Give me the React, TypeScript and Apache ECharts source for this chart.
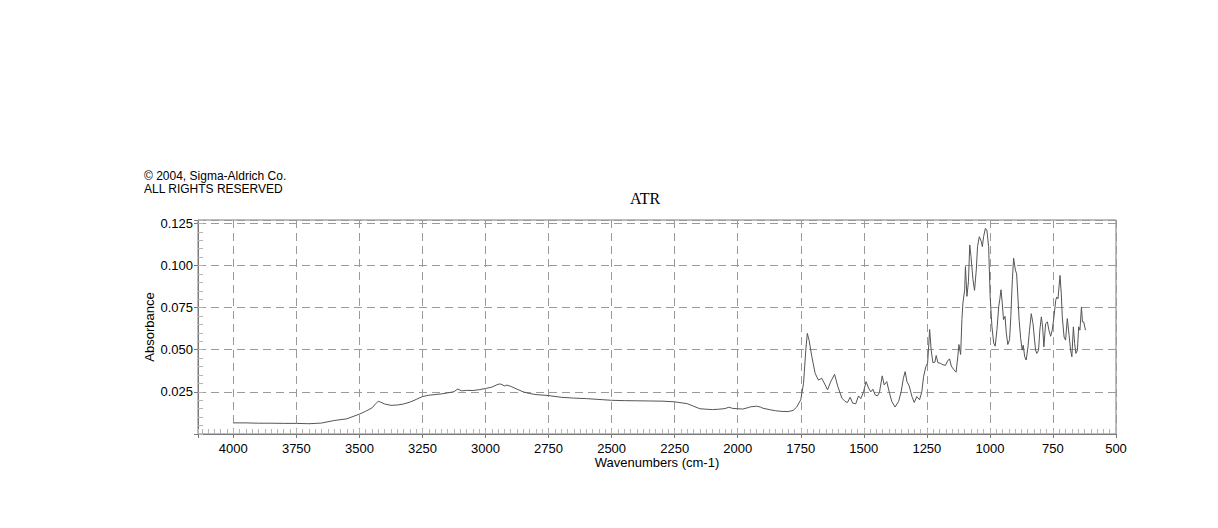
import React, { useEffect, useRef } from "react";
import * as echarts from "echarts";

const wavenumbers = [
  4000, 3950, 3900, 3850, 3800, 3750, 3700, 3650, 3600, 3550, 3500, 3475, 3450, 3435, 3425, 3410, 3400, 3375, 3350, 3325,
  3300, 3275, 3250, 3225, 3200, 3175, 3150, 3125, 3110, 3095, 3075, 3050, 3025, 3000, 2975, 2955, 2945, 2935, 2925, 2915,
  2900, 2875, 2850, 2825, 2800, 2750, 2700, 2650, 2600, 2550, 2500, 2450, 2400, 2350, 2300, 2250, 2200, 2175, 2150, 2125,
  2100, 2075, 2050, 2035, 2020, 2000, 1980, 1960, 1950, 1925, 1910, 1900, 1875, 1850, 1825, 1800, 1780, 1766, 1750, 1739,
  1730, 1724, 1717, 1706, 1693, 1680, 1667, 1653, 1644, 1631, 1616, 1603, 1587, 1574, 1565, 1554, 1544, 1532, 1521, 1512,
  1501, 1491, 1481, 1472, 1464, 1455, 1446, 1438, 1427, 1419, 1409, 1398, 1389, 1376, 1362, 1352, 1343, 1336, 1329, 1320,
  1309, 1300, 1290, 1279, 1270, 1263, 1254, 1247, 1242, 1239, 1233, 1226, 1218, 1213, 1206, 1197, 1186, 1176, 1168, 1160,
  1153, 1144, 1134, 1127, 1123, 1116, 1111, 1107, 1100, 1097, 1091, 1085, 1080, 1075, 1067, 1061, 1054, 1049, 1042, 1034,
  1030, 1025, 1018, 1012, 1005, 999, 992, 985, 979, 972, 965, 961, 956, 951, 946, 940, 935, 929, 922, 917,
  911, 906, 899, 894, 889, 884, 878, 872, 868, 862, 856, 849, 843, 836, 829, 824, 819, 814, 807, 802,
  796, 791, 786, 779, 772, 766, 759, 753, 746, 739, 735, 730, 726, 722, 717, 713, 706, 700, 693, 686,
  680, 675, 669, 664, 659, 653, 648, 643, 637, 633, 628, 621,
];

const absorbance = [
  0.0066, 0.0066, 0.0064, 0.0064, 0.0063, 0.0063, 0.0061, 0.0065, 0.008, 0.009, 0.0118, 0.0135, 0.0155, 0.018, 0.0195, 0.0185, 0.0178, 0.017, 0.0172, 0.0178,
  0.0189, 0.0205, 0.0222, 0.023, 0.0234, 0.0238, 0.0244, 0.0251, 0.0267, 0.0256, 0.0259, 0.0258, 0.0263, 0.027, 0.0278, 0.0292, 0.0297, 0.0294, 0.0285, 0.029,
  0.0283, 0.0266, 0.025, 0.024, 0.0234, 0.0228, 0.0218, 0.0213, 0.021, 0.0205, 0.02, 0.0198, 0.0197, 0.0196, 0.0195, 0.0191, 0.018, 0.0165, 0.015, 0.0147,
  0.0145, 0.0147, 0.0151, 0.0159, 0.0152, 0.015, 0.0148, 0.0156, 0.0161, 0.0165, 0.016, 0.0153, 0.0145, 0.0138, 0.0134, 0.0133, 0.014, 0.016, 0.0203, 0.03,
  0.0498, 0.0597, 0.0557, 0.0459, 0.036, 0.032, 0.0331, 0.0291, 0.0262, 0.0311, 0.0354, 0.0282, 0.0213, 0.0193, 0.0187, 0.0218, 0.0183, 0.0179, 0.0226, 0.021,
  0.025, 0.0311, 0.0272, 0.025, 0.0266, 0.0232, 0.0226, 0.0246, 0.0345, 0.0291, 0.0311, 0.0242, 0.0193, 0.016, 0.0193, 0.025, 0.0331, 0.037, 0.0311, 0.0285,
  0.0222, 0.0187, 0.0222, 0.0203, 0.025, 0.034, 0.04, 0.042, 0.054, 0.062, 0.05, 0.0423, 0.0427, 0.0466, 0.0423, 0.042, 0.0411, 0.0407, 0.0433, 0.0446,
  0.0403, 0.0383, 0.0367, 0.0462, 0.0531, 0.0472, 0.0679, 0.0777, 0.0856, 0.0994, 0.0817, 0.0905, 0.1122, 0.1053, 0.0915, 0.0852, 0.0974, 0.1112, 0.1171, 0.1142,
  0.1112, 0.1171, 0.122, 0.121, 0.1112, 0.0817, 0.0639, 0.054, 0.0521, 0.062, 0.0757, 0.0797, 0.0856, 0.0777, 0.0679, 0.0698, 0.06, 0.0531, 0.056, 0.0698,
  0.0915, 0.1043, 0.0974, 0.095, 0.0813, 0.0675, 0.0567, 0.0498, 0.0527, 0.0458, 0.0439, 0.0517, 0.0616, 0.0714, 0.0655, 0.0576, 0.0498, 0.0478, 0.0498, 0.0616,
  0.0695, 0.0636, 0.0517, 0.0655, 0.0665, 0.0616, 0.058, 0.0616, 0.0695, 0.0793, 0.0813, 0.0803, 0.0872, 0.0941, 0.0833, 0.0695, 0.0576, 0.0557, 0.0685, 0.0586,
  0.0498, 0.0458, 0.0636, 0.0537, 0.0478, 0.0498, 0.0636, 0.0616, 0.0754, 0.0665, 0.0665, 0.0616,
];

const xTickLabels = [4000, 3750, 3500, 3250, 3000, 2750, 2500, 2250, 2000, 1750, 1500, 1250, 1000, 750, 500];
const yTickLabels = ["0.025", "0.050", "0.075", "0.100", "0.125"];

const titleText = "ATR";
const copyrightLines = ["© 2004, Sigma-Aldrich Co.", "ALL RIGHTS RESERVED"];
const xName = "Wavenumbers (cm-1)";
const yName = "Absorbance";

const SANS = "'Liberation Sans', Arial, Helvetica, sans-serif";
const SERIF = "'Liberation Serif', 'Times New Roman', serif";

export default function App() {
  const ref = useRef<HTMLDivElement>(null);

  useEffect(() => {
    if (!ref.current) return;
    const chart = echarts.init(ref.current, null, { renderer: "svg" });
    const data = wavenumbers.map((w, i) => [w, absorbance[i]]);

    const xRange = { min: 500, max: 4140 };
    const yRange = { min: 0, max: 0.127 };

    chart.setOption({
      animation: false,
      backgroundColor: "#fff",
      grid: {
        left: 198,
        right: 102,
        top: 220,
        bottom: 94,
        show: true,
        borderColor: "#7a7a7a",
        borderWidth: 1,
      },
      graphic: [
        {
          type: "text",
          left: 144,
          top: 170,
          style: { text: copyrightLines[0], font: `12px ${SANS}`, fill: "#000" },
        },
        {
          type: "text",
          left: 144,
          top: 183,
          style: { text: copyrightLines[1], font: `12px ${SANS}`, fill: "#000" },
        },
        {
          type: "text",
          x: 645,
          y: 198,
          style: {
            text: titleText,
            font: `16px ${SERIF}`,
            fill: "#000",
            align: "center",
            verticalAlign: "middle",
          },
        },
      ],
      xAxis: [
        {
          type: "value",
          ...xRange,
          interval: 250,
          inverse: true,
          name: xName,
          nameLocation: "middle",
          nameGap: 22,
          nameMoveOverlap: false,
          nameTextStyle: { fontFamily: SANS, fontSize: 13, color: "#000" },
          axisLine: { show: true, lineStyle: { color: "#7a7a7a", width: 1 } },
          axisTick: { show: true, inside: false, length: 4, lineStyle: { color: "#7a7a7a" } },
          axisLabel: {
            color: "#000",
            fontFamily: SANS,
            fontSize: 13,
            margin: 8,
            formatter: (v: number) => (xTickLabels.includes(v) ? String(v) : ""),
          },
          splitLine: { show: true, lineStyle: { color: "#9a9a9a", type: [8, 5], width: 1 } },
        },
        {
          type: "value",
          ...xRange,
          interval: 25,
          inverse: true,
          position: "bottom",
          axisLine: { show: false },
          axisTick: { show: true, inside: true, length: 5, lineStyle: { color: "#b5b5b5" } },
          axisLabel: { show: false },
          splitLine: { show: false },
        },
      ],
      yAxis: [
        {
          type: "value",
          ...yRange,
          interval: 0.025,
          name: yName,
          nameLocation: "middle",
          nameGap: 42,
          nameRotate: 90,
          nameMoveOverlap: false,
          nameTextStyle: { fontFamily: SANS, fontSize: 13, color: "#000" },
          axisLine: { show: true, lineStyle: { color: "#7a7a7a", width: 1 } },
          axisTick: {
            show: true,
            inside: false,
            length: 4,
            lineStyle: { color: "#7a7a7a" },
          },
          axisLabel: {
            color: "#000",
            fontFamily: SANS,
            fontSize: 13,
            margin: 5,
            formatter: (v: number) => {
              const s = v.toFixed(3);
              return yTickLabels.includes(s) ? s : "";
            },
          },
          splitLine: { show: true, lineStyle: { color: "#9a9a9a", type: [8, 5], width: 1 } },
        },
        {
          type: "value",
          ...yRange,
          interval: 0.005,
          position: "left",
          axisLine: { show: false },
          axisTick: { show: true, inside: true, length: 5, lineStyle: { color: "#b5b5b5" } },
          axisLabel: { show: false },
          splitLine: { show: false },
        },
      ],
      series: [
        {
          type: "line",
          xAxisIndex: 0,
          yAxisIndex: 0,
          data,
          showSymbol: false,
          symbol: "none",
          lineStyle: { color: "#555", width: 1 },
          silent: true,
        },
      ],
    });

    return () => chart.dispose();
  }, []);

  return (
    <div
      ref={ref}
      style={{ position: "absolute", left: 0, top: 0, width: 1218, height: 528 }}
    />
  );
}
